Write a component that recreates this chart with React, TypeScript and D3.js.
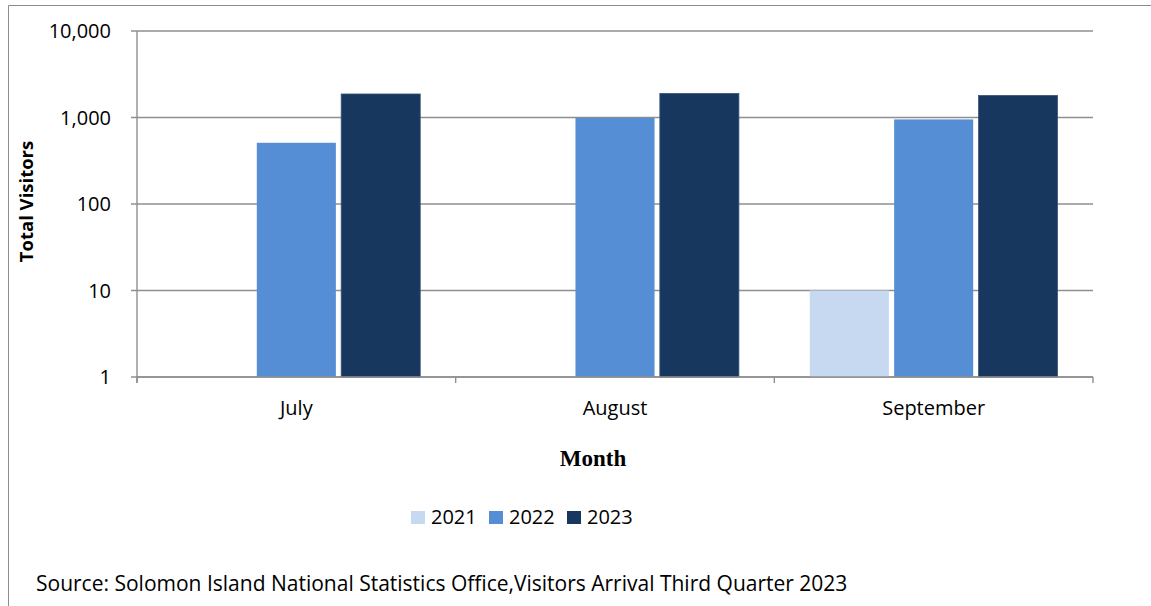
import React from "react";
import * as d3 from "d3";

const months = ["July", "August", "September"];
const years = ["2021", "2022", "2023"];
const v2021 = [null, null, 10];
const v2022 = [510, 990, 950];
const v2023 = [1870, 1900, 1800];
const yTicks = [1, 10, 100, 1000, 10000];
const colors = ["#c6d9f1", "#558ed5", "#17375e"];

const W = 1151;
const H = 606;
const left = 137;
const right = 1093;
const top = 31;
const bottom = 377;
const FONT = "'Open Sans', sans-serif";

export default function App() {
  const series = [v2021, v2022, v2023];
  const y = d3.scaleLog().domain([1, 10000]).range([bottom, top]);
  const x0 = d3.scaleBand<string>().domain(months).range([left, right]).padding(0);
  const x1 = d3
    .scaleBand<string>()
    .domain(years)
    .range([0, x0.bandwidth()])
    .paddingInner(0.063)
    .paddingOuter(0.42);
  const fmt = d3.format(",");
  const boundaries = [...months.map((m) => x0(m) as number), right];
  const gridColor = "#8f8f8f";

  return (
    <svg
      width={W}
      height={H}
      style={{ position: "absolute", left: 0, top: 0, background: "#fff" }}
    >
      {/* frame */}
      <line x1={8.5} y1={5.5} x2={W} y2={5.5} stroke="#8c8c8c" strokeWidth={1} />
      <line x1={8.5} y1={5.5} x2={8.5} y2={H} stroke="#8c8c8c" strokeWidth={1} />

      {/* gridlines + y ticks */}
      {yTicks.map((t) => (
        <g key={t}>
          <line
            x1={left - 6}
            x2={right}
            y1={y(t)}
            y2={y(t)}
            stroke={gridColor}
            strokeWidth={1.4}
          />
          <text
            x={111}
            y={y(t) + 7}
            textAnchor="end"
            fontFamily={FONT}
            fontSize={20}
            fill="#000"
          >
            {fmt(t)}
          </text>
        </g>
      ))}

      {/* y axis line */}
      <line x1={left} x2={left} y1={top} y2={bottom + 6} stroke={gridColor} strokeWidth={1.4} />
      {/* x ticks */}
      {boundaries.map((b, i) => (
        <line key={i} x1={b} x2={b} y1={bottom} y2={bottom + 6} stroke={gridColor} strokeWidth={1.4} />
      ))}

      {/* bars */}
      {months.map((m, mi) => (
        <g key={m} transform={`translate(${x0(m)},0)`}>
          {years.map((yr, si) => {
            const v = series[si][mi];
            if (v == null || v <= 0) return null;
            return (
              <rect
                key={yr}
                x={x1(yr)}
                y={y(v)}
                width={x1.bandwidth()}
                height={bottom - y(v)}
                fill={colors[si]}
                stroke={si === 2 ? "#3b5678" : "none"}
                strokeWidth={si === 2 ? 0.8 : 0}
              />
            );
          })}
        </g>
      ))}

      {/* x axis line on top of bars */}
      <line x1={left} x2={right} y1={bottom} y2={bottom} stroke={gridColor} strokeWidth={1.4} />

      {/* x labels */}
      {months.map((m) => (
        <text
          key={m}
          x={(x0(m) as number) + x0.bandwidth() / 2}
          y={415}
          textAnchor="middle"
          fontFamily={FONT}
          fontSize={20}
          fill="#000"
        >
          {m}
        </text>
      ))}

      {/* axis titles */}
      <text
        transform={`translate(33,201.5) rotate(-90)`}
        textAnchor="middle"
        fontFamily={FONT}
        fontWeight="bold"
        fontSize={18.5}
        fill="#000"
      >
        Total Visitors
      </text>
      <text
        x={593}
        y={466}
        textAnchor="middle"
        fontFamily="'Liberation Serif', 'Times New Roman', serif"
        fontWeight="bold"
        fontSize={23}
        fill="#000"
      >
        Month
      </text>

      {/* legend */}
      {years.map((yr, i) => (
        <g key={yr} transform={`translate(${411 + i * 78},0)`}>
          <rect x={0} y={511} width={14} height={13} fill={colors[i]} />
          <text x={20} y={524} fontFamily={FONT} fontSize={20} fill="#000">
            {yr}
          </text>
        </g>
      ))}

      {/* source */}
      <text x={36} y={591} fontFamily={FONT} fontSize={21} fill="#000">
        Source: Solomon Island National Statistics Office,Visitors Arrival Third Quarter 2023
      </text>
    </svg>
  );
}
